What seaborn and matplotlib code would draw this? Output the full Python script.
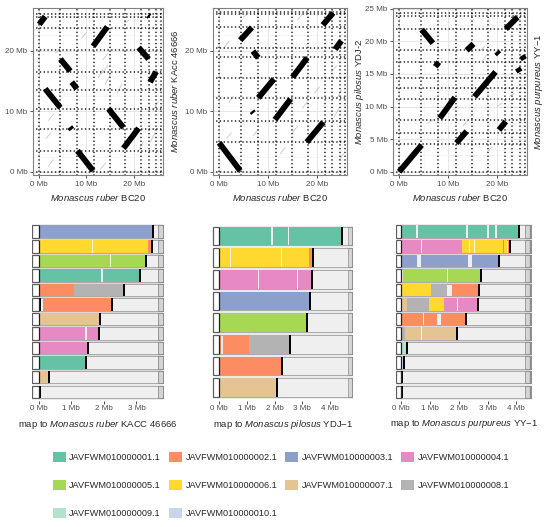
import numpy as np
import pandas as pd
import matplotlib
matplotlib.use("Agg")
import matplotlib.pyplot as plt
from matplotlib.patches import Rectangle, Patch
from matplotlib.ticker import FixedLocator, FuncFormatter
import seaborn as sns

sns.set_theme(style="white")
plt.rcParams["font.family"] = ["Liberation Sans", "DejaVu Sans"]
plt.rcParams["mathtext.fontset"] = "custom"
plt.rcParams["mathtext.rm"] = "Liberation Sans"
plt.rcParams["mathtext.it"] = "Liberation Sans:italic"

# ---- contig boundaries (Mb) ----
bc20_breaks = [0, 4.5, 7.95, 11.55, 14.95, 18.15, 21.55, 23.1, 24.65, 25.75]
kacc_breaks = [0, 3.5, 7.0, 10.3, 13.5, 16.5, 20.1, 23.7, 25.6, 26.0]
ydj_breaks = [0, 4.9, 8.4, 12.1, 15.5, 19.0, 20.4, 23.9, 26.0, 26.4]
yy_breaks = [0, 4.2, 5.9, 8.0, 11.2, 12.9, 14.4, 16.8, 18.7, 21.9, 23.9, 24.3]

# ---- syntenic blocks, BC20 (x) vs other genome (y), Mb ----
kacc_x0 = [0.06, 11.4, 21.0, 23.4, 4.5, 6.9, 1.3, 14.65, 17.8, 8.1, 23.0, 6.5]
kacc_x1 = [1.3, 14.4, 23.1, 24.7, 6.6, 8.0, 4.5, 17.8, 21.0, 11.4, 23.3, 6.9]
kacc_y0 = [24.3, 20.7, 20.5, 14.8, 18.6, 14.8, 13.7, 10.4, 3.9, 3.5, 25.8, 7.4]
kacc_y1 = [25.6, 23.9, 18.6, 16.5, 16.6, 13.7, 10.6, 7.3, 7.2, 0.2, 25.6, 7.0]

ydj_x0 = [0.0, 17.9, 11.4, 8.0, 15.0, 6.9, 4.3, 21.2, 23.7, 6.7]
ydj_x1 = [4.3, 21.3, 14.6, 11.2, 18.0, 8.0, 6.7, 23.3, 25.0, 7.0]
ydj_y0 = [4.8, 4.9, 8.6, 12.2, 15.6, 19.9, 21.7, 24.2, 20.2, 10.0]
ydj_y1 = [0.2, 8.2, 12.0, 15.3, 18.8, 18.8, 23.8, 26.2, 21.6, 9.7]

yy_x0 = [0.0, 11.7, 20.4, 8.3, 15.4, 7.4, 13.8, 4.6, 21.8, 19.9, 24.2, 25.1]
yy_x1 = [4.6, 13.8, 21.8, 11.4, 19.7, 8.1, 15.2, 6.9, 24.2, 20.4, 24.7, 25.6]
yy_y0 = [0.0, 4.4, 6.4, 8.2, 11.5, 16.1, 18.6, 21.8, 21.9, 18.4, 15.9, 17.8]
yy_y1 = [4.1, 6.2, 7.7, 11.4, 15.3, 16.8, 19.6, 19.7, 23.7, 18.0, 15.3, 17.2]

# faint short alignments
kacc_fx0 = [1.5, 2.0, 12.5, 13.0, 14.0, 13.5, 16.5, 21.0, 23.5, 24.0, 3.5, 9.0, 18.0, 13.0, 2.0]
kacc_fx1 = [2.5, 3.0, 13.5, 14.5, 15.0, 14.5, 17.5, 22.0, 24.5, 25.0, 4.5, 10.0, 19.0, 14.0, 3.0]
kacc_fy0 = [5.5, 8.5, 15.5, 16.0, 14.5, 18.5, 13.0, 3.5, 5.0, 10.0, 19.5, 22.0, 24.5, 0.5, 1.0]
kacc_fy1 = [6.5, 9.5, 17.0, 17.5, 16.0, 19.5, 14.5, 5.0, 6.5, 11.5, 20.5, 23.0, 25.0, 1.5, 2.0]

ydj_fx0 = [1.5, 2.0, 1.0, 7.0, 12.5, 15.0, 17.0, 23.5, 24.0, 24.5, 19.5, 16.0, 5.0, 23.0]
ydj_fx1 = [2.5, 3.0, 2.0, 8.0, 13.5, 16.0, 18.0, 24.5, 25.0, 25.5, 20.5, 17.0, 6.0, 24.0]
ydj_fy0 = [5.5, 11.5, 20.5, 6.0, 3.0, 6.5, 10.5, 9.0, 12.0, 2.0, 13.0, 25.0, 25.5, 16.5]
ydj_fy1 = [6.5, 12.5, 21.5, 7.0, 4.0, 7.5, 11.5, 10.5, 13.5, 3.0, 14.0, 26.0, 26.2, 17.5]

yy_fx0 = [6.0, 13.0, 18.0, 17.0, 11.0, 20.0, 22.5, 16.5]
yy_fx1 = [7.0, 14.0, 19.0, 18.0, 12.0, 21.0, 23.5, 17.5]
yy_fy0 = [7.5, 7.0, 3.0, 17.0, 9.5, 10.0, 11.5, 18.5]
yy_fy1 = [8.0, 7.8, 3.8, 18.0, 10.0, 10.5, 12.0, 19.2]

# ---- contig painting of chromosomes (Mb); contig 0 = unplaced (black) ----
contig_names = ["JAVFWM0100000%02d.1" % i for i in range(1, 11)]

p1_row = [0, 1, 1, 2, 3, 4, 4, 5, 5, 6, 7, 8, 9, 10, 11]
p1_start = [0, 0, 3.34, 0, 0, 0, 1.08, 0, 0.12, 0, 0, 0, 0, 0, 0]
p1_end = [3.5, 3.34, 3.47, 3.28, 3.1, 1.08, 2.62, 0.08, 2.26, 1.88, 1.85, 1.52, 1.45, 0.31, 0.05]
p1_contig = [3, 6, 2, 5, 1, 2, 8, 0, 2, 7, 4, 4, 1, 7, 0]
p1_gap_row = [1, 2, 3, 7]
p1_gap_start = [1.62, 2.18, 1.9, 1.43]
p1_gap_end = [1.65, 2.21, 1.97, 1.47]

p2_row = [0, 1, 1, 2, 3, 4, 5, 5, 5, 6, 6, 7]
p2_start = [0, 0, 3.25, 0, 0, 0, 0, 0.14, 1.08, 0, 2.23, 0]
p2_end = [4.43, 3.25, 3.39, 3.36, 3.27, 3.18, 0.08, 1.08, 2.55, 2.23, 2.28, 2.1]
p2_contig = [1, 6, 2, 4, 3, 5, 2, 2, 8, 2, 8, 7]
p2_gap_row = [0, 0, 1, 1, 2, 2]
p2_gap_start = [1.88, 2.48, 0.38, 2.22, 1.39, 2.8]
p2_gap_end = [1.94, 2.53, 0.44, 2.25, 1.44, 2.85]

p3_row = [0, 1, 1, 1, 1, 1, 2, 3, 4, 4, 4, 5, 5, 5, 5, 6, 6, 7, 7, 8, 9, 10, 11]
p3_start = [0, 0, 2.1, 3.52, 3.56, 3.72, 0, 0.08, 0, 1.03, 1.78, 0.05, 0.2, 0.98, 1.5,
            0, 1.39, 0, 0.15, 0, 0, 0, 0]
p3_end = [4.08, 2.1, 3.52, 3.56, 3.67, 3.79, 3.4, 2.79, 1.03, 1.6, 2.71, 0.2, 0.98, 1.5, 2.68,
          1.24, 2.25, 0.15, 1.93, 0.2, 0.1, 0.05, 0.05]
p3_contig = [1, 4, 6, 1, 6, 2, 3, 5, 6, 8, 2, 7, 8, 6, 4, 2, 2, 8, 7, 9, 10, 0, 0]
p3_gap_row = [0, 0, 0, 0, 1, 1, 1, 2, 2, 3, 5, 6, 7, 7]
p3_gap_start = [0.52, 2.25, 2.99, 3.26, 0.7, 2.37, 2.52, 0.57, 2.31, 1.6, 1.95, 0.75, 0.7, 1.2]
p3_gap_end = [0.58, 2.31, 3.05, 3.32, 0.73, 2.41, 2.56, 0.69, 2.47, 1.63, 1.99, 0.79, 0.73, 1.23]

pastel = sns.color_palette("Pastel2", 3)
palette = dict(zip(range(1, 11), sns.color_palette("Set2", 8) + [pastel[0], pastel[2]]))
palette[0] = "black"

W, H = 550, 527
fig = plt.figure(figsize=(5.5, 5.27), dpi=100)


def fig_axes(left, top, width, height):
    return fig.add_axes([left / W, 1 - (top + height) / H, width / W, height / H])


def mb(v, pos=None):
    return "%d Mb" % round(v)


def seg_frame(x0, x1, y0, y1):
    n = len(x0)
    return pd.DataFrame({
        "seg": np.repeat(np.arange(n), 2),
        "x": np.column_stack([x0, x1]).ravel(),
        "y": np.column_stack([y0, y1]).ravel(),
    })


DOTS = dict(color="black", ls=(0, (0.05, 2.3)), lw=1.15, dash_capstyle="round", zorder=2)


def dotplot(ax, xb, yb, blocks, faint, ylim, yticks, ylab):
    ax.set_xlim(-1.2, 26.2)
    ax.set_ylim(*ylim)
    ax.xaxis.set_major_locator(FixedLocator([0, 10, 20]))
    ax.xaxis.set_minor_locator(FixedLocator([5, 15, 25]))
    ax.yaxis.set_major_locator(FixedLocator(yticks))
    ax.yaxis.set_minor_locator(FixedLocator([t + 2.5 for t in yticks]))
    ax.xaxis.set_major_formatter(FuncFormatter(mb))
    ax.yaxis.set_major_formatter(FuncFormatter(mb))
    ax.grid(True, which="major", color="#e6e6e6", lw=0.7, zorder=0)
    ax.grid(True, which="minor", color="#f2f2f2", lw=0.4, zorder=0)
    for b in xb:
        ax.axvline(b, **DOTS)
    for b in yb:
        ax.axhline(b, **DOTS)
    sns.lineplot(data=seg_frame(*faint), x="x", y="y", units="seg", estimator=None, sort=False,
                 color="#c8c8c8", lw=0.6, ax=ax, legend=False, zorder=1)
    sns.lineplot(data=seg_frame(*blocks), x="x", y="y", units="seg", estimator=None, sort=False,
                 color="black", lw=4.2, solid_capstyle="butt", ax=ax, legend=False, zorder=3)
    for s in ax.spines.values():
        s.set_color("#808080")
        s.set_linewidth(0.8)
    ax.tick_params(axis="both", which="major", length=2.5, width=0.6, color="#333333",
                   labelsize=5.8, labelcolor="#4d4d4d", pad=1.5, left=True, bottom=True)
    ax.tick_params(which="minor", length=0)
    ax.set_xlabel(r"$\it{Monascus\ ruber}$ BC20", fontsize=6.8, labelpad=3)
    ax.yaxis.set_label_position("right")
    ax.set_ylabel(ylab, fontsize=6.8, labelpad=4)


def barpanel(ax, n, xmin, gray_end, xmax, rows, starts, ends, contigs,
             g_rows, g_starts, g_ends, xticks, label):
    h = 0.86
    for i in range(n):
        ax.add_patch(Rectangle((xmin, i - h / 2), xmax - xmin, h, fc="white", ec="#5e5e5e", lw=0.9, zorder=1))
        ax.add_patch(Rectangle((0, i - h / 2), gray_end, h, fc="#efefef", ec="#b0b0b0", lw=0.4, zorder=1))
        ax.add_patch(Rectangle((gray_end, i - h / 2), xmax - gray_end, h, fc="#d4d4d4", ec="#8c8c8c",
                               lw=0.4, hatch="|||", zorder=1))
    df = pd.DataFrame({"row": rows, "start": starts, "end": ends, "contig": contigs})
    ax.barh(df["row"], df["end"] - df["start"], left=df["start"], height=h,
            color=[palette[c] for c in df["contig"]], lw=0, zorder=2)
    gaps = pd.DataFrame({"row": g_rows, "start": g_starts, "end": g_ends})
    ax.barh(gaps["row"], gaps["end"] - gaps["start"], left=gaps["start"], height=h,
            color="white", alpha=0.85, lw=0, zorder=2.5)
    row_end = df.groupby("row")["end"].max()
    ax.vlines(row_end.values, row_end.index - h / 2, row_end.index + h / 2, color="black", lw=1.4, zorder=3)
    ax.vlines(np.zeros(len(row_end)), row_end.index - h / 2, row_end.index + h / 2,
              color="#222222", lw=0.9, zorder=3)
    ax.set_xlim(xmin - 0.01, xmax + 0.01)
    ax.set_ylim(n - 0.4, -0.6)
    ax.set_yticks([])
    ax.set_xticks(xticks)
    ax.xaxis.set_major_formatter(FuncFormatter(mb))
    for s in ax.spines.values():
        s.set_visible(False)
    ax.tick_params(axis="x", length=2, width=0.6, color="#333333", labelsize=5.8,
                   labelcolor="#4d4d4d", pad=1.5, bottom=True)
    ax.set_xlabel(label, fontsize=6.8, labelpad=4)


ax1 = fig_axes(33.3, 8, 130, 167)
ax2 = fig_axes(213.3, 8, 134, 167)
ax3 = fig_axes(393.3, 8, 134, 167)

dotplot(ax1, bc20_breaks, kacc_breaks, (kacc_x0, kacc_x1, kacc_y0, kacc_y1),
        (kacc_fx0, kacc_fx1, kacc_fy0, kacc_fy1), (-0.5, 27.0), [0, 10, 20],
        r"$\it{Monascus\ ruber}$ KAcc 46666")
dotplot(ax2, bc20_breaks, ydj_breaks, (ydj_x0, ydj_x1, ydj_y0, ydj_y1),
        (ydj_fx0, ydj_fx1, ydj_fy0, ydj_fy1), (-0.5, 27.0), [0, 10, 20],
        r"$\it{Monascus\ pilosus}$ YDJ-2")
dotplot(ax3, bc20_breaks, yy_breaks, (yy_x0, yy_x1, yy_y0, yy_y1),
        (yy_fx0, yy_fx1, yy_fy0, yy_fy1), (-0.5, 25.1), [0, 5, 10, 15, 20, 25],
        r"$\it{Monascus\ purpureus}$ YY−1")

bx1 = fig_axes(32, 223, 131.5, 177.5)
bx2 = fig_axes(212.3, 223, 141, 177.5)
bx3 = fig_axes(395.7, 223, 136, 177.5)

barpanel(bx1, 12, -0.2, 3.67, 3.82, p1_row, p1_start, p1_end, p1_contig,
         p1_gap_row, p1_gap_start, p1_gap_end, [0, 1, 2, 3],
         r"map to $\it{Monascus\ ruber}$ KACC 46666")
barpanel(bx2, 8, -0.24, 4.65, 4.83, p2_row, p2_start, p2_end, p2_contig,
         p2_gap_row, p2_gap_start, p2_gap_end, [0, 1, 2, 3, 4],
         r"map to $\it{Monascus\ pilosus}$ YDJ−1")
barpanel(bx3, 12, -0.17, 4.31, 4.52, p3_row, p3_start, p3_end, p3_contig,
         p3_gap_row, p3_gap_start, p3_gap_end, [0, 1, 2, 3, 4],
         r"map to $\it{Monascus\ purpureus}$ YY−1")

# legend, filled row by row
handles = [Patch(facecolor=palette[i + 1], edgecolor="none") for i in range(10)]
order = [0, 4, 8, 1, 5, 9, 2, 6, 3, 7]
fig.legend([handles[i] for i in order], [contig_names[i] for i in order], ncol=4,
           loc="center", bbox_to_anchor=(281 / W, 1 - 485 / H), frameon=False,
           fontsize=6.6, handlelength=1.42, handleheight=1.42, handletextpad=0.4,
           columnspacing=0.85, labelspacing=1.9, borderpad=0)

fig.savefig("out.png", dpi=100)
